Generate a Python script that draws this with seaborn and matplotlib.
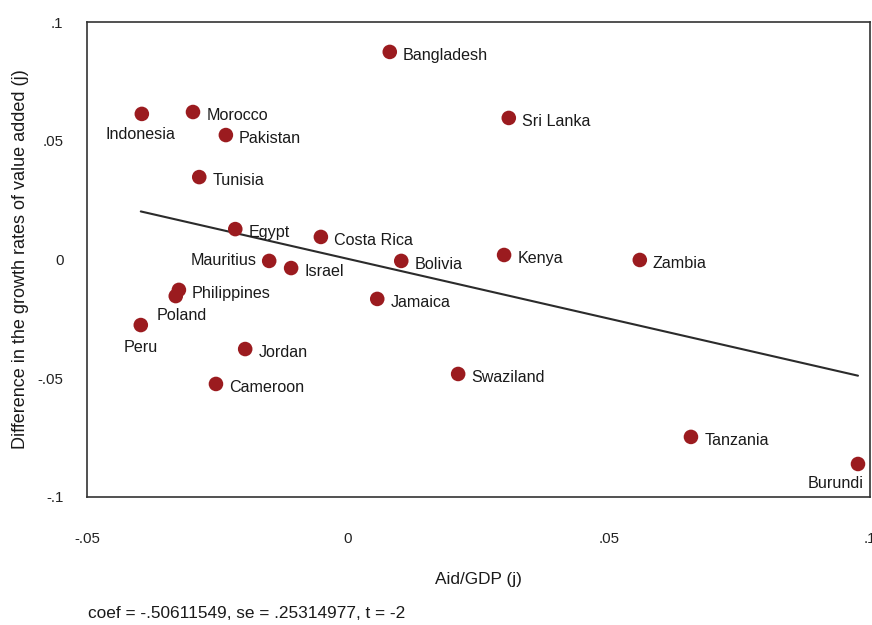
import matplotlib
matplotlib.use("Agg")
import matplotlib.pyplot as plt
import numpy as np
import pandas as pd
import seaborn as sns

# values
countries = ["Bangladesh", "Sri Lanka", "Indonesia", "Morocco", "Pakistan", "Tunisia",
             "Egypt", "Costa Rica", "Mauritius", "Israel", "Bolivia", "Kenya", "Zambia",
             "Philippines", "Poland", "Peru", "Jamaica", "Jordan", "Cameroon", "Swaziland",
             "Tanzania", "Burundi"]
aid_gdp = [0.0080, 0.0308, -0.0395, -0.0297, -0.0234, -0.0285,
           -0.0216, -0.0052, -0.0151, -0.0109, 0.0102, 0.0299, 0.0559,
           -0.0324, -0.0330, -0.0397, 0.0056, -0.0197, -0.0253, 0.0211,
           0.0657, 0.0977]
growth_diff = [0.0874, 0.0596, 0.0613, 0.0621, 0.0524, 0.0347,
               0.0128, 0.0095, -0.0006, -0.0036, -0.0006, 0.0019, -0.0002,
               -0.0128, -0.0154, -0.0276, -0.0166, -0.0377, -0.0524, -0.0482,
               -0.0747, -0.0861]
x_ticks = [-0.05, 0, 0.05, 0.1]
x_ticklabels = ["-.05", "0", ".05", ".1"]
y_ticks = [-0.1, -0.05, 0, 0.05, 0.1]
y_ticklabels = ["-.1", "-.05", "0", ".05", ".1"]
note = "coef = -.50611549, se = .25314977, t = -2"

df = pd.DataFrame({"country": countries, "aid": aid_gdp, "growth": growth_diff})

# label placement (offset in points, alignment), default is to the right
label_pos = {
    "Indonesia": ((-1, -15), "center", "center"),
    "Peru": ((0, -16), "center", "center"),
    "Burundi": ((-16, -14), "center", "center"),
    "Mauritius": ((-9, 0), "right", "center"),
    "Poland": ((4, -14), "center", "center"),
}

sns.set_theme(style="white")
plt.rcParams["font.family"] = ["Liberation Sans", "DejaVu Sans"]

fig = plt.figure(figsize=(8.72, 6.25), dpi=100)
ax = fig.add_axes([0.0998, 0.2048, 0.8979, 0.76])

dot = "#9b1b1f"
sns.regplot(data=df, x="aid", y="growth", ax=ax, scatter=False, ci=None,
            line_kws={"color": "#2b2b2b", "lw": 1.5})
sns.scatterplot(data=df, x="aid", y="growth", ax=ax, color=dot, s=110,
                edgecolor="none", zorder=3)

for _, row in df.iterrows():
    off, ha, va = label_pos.get(row["country"], ((9.5, -2.5), "left", "center"))
    ax.annotate(row["country"], (row["aid"], row["growth"]), xytext=off,
                textcoords="offset points", ha=ha, va=va, fontsize=11.6,
                color="#1a1a1a")

ax.set_xlim(-0.05, 0.1)
ax.set_ylim(-0.1, 0.1)
ax.set_xticks(x_ticks)
ax.set_xticklabels(x_ticklabels)
ax.set_yticks(y_ticks)
ax.set_yticklabels(y_ticklabels)
ax.tick_params(axis="both", direction="out", length=9, width=1, color="#aaaaaa",
               labelsize=10.8, labelcolor="#222222")
ax.tick_params(axis="x", pad=16)
ax.tick_params(axis="y", pad=8)
for sp in ax.spines.values():
    sp.set_color("#333333")
    sp.set_linewidth(1.2)

ax.set_xlabel("Aid/GDP (j)", fontsize=12.4, color="#1a1a1a", labelpad=19)
ax.set_ylabel("Difference in the growth rates of value added (j)", fontsize=13,
              color="#1a1a1a", labelpad=6)
fig.text(0.101, 0.006, note, fontsize=12.4, color="#1a1a1a", ha="left",
         va="bottom")

fig.savefig("out.png", dpi=100)
